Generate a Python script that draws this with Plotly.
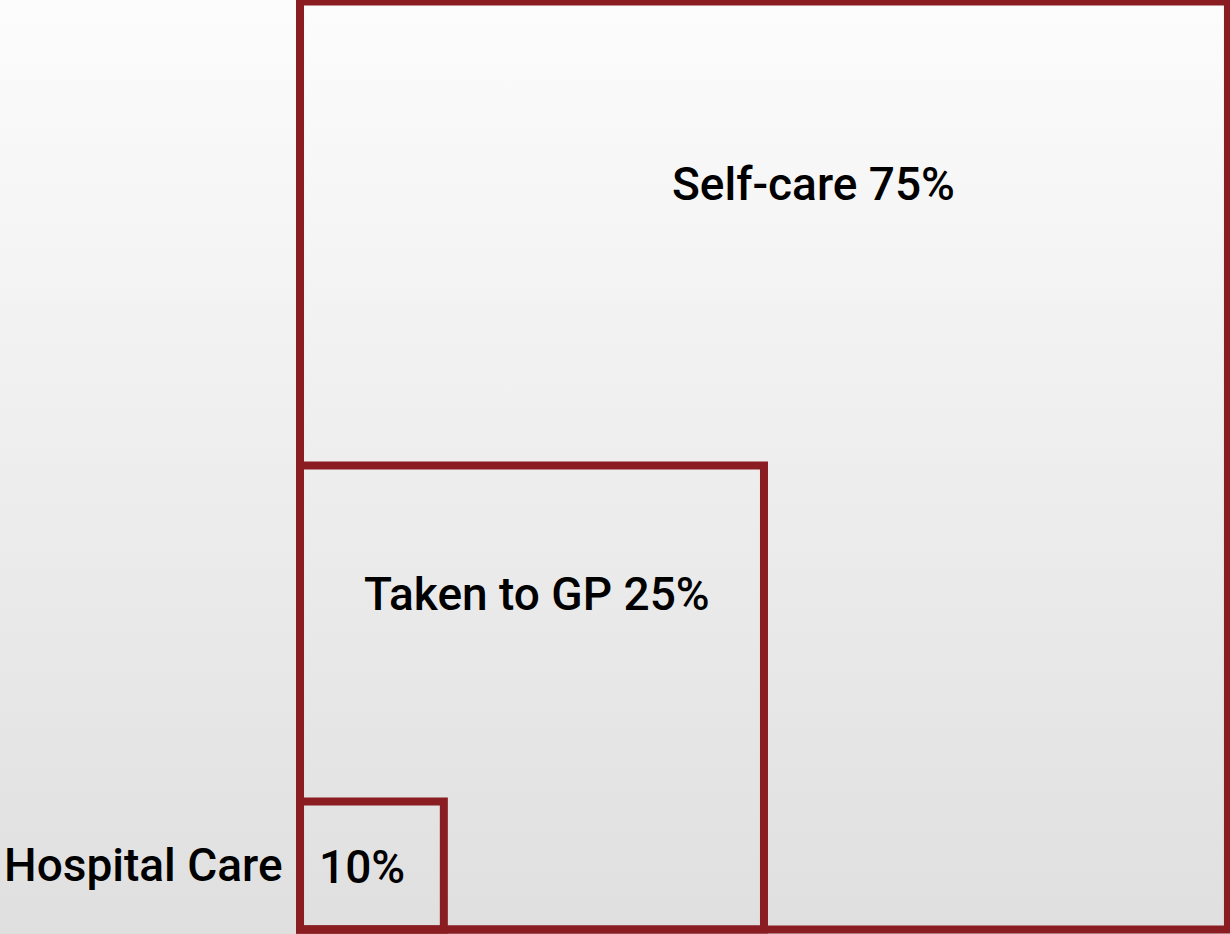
import plotly.graph_objects as go

# Data
categories = ["Self-care", "Taken to GP", "Hospital Care"]
values = [75, 25, 10]
box_width = [100, 50, 15.5]
box_height = [100, 50, 13.8]

BORDER = "#8a1d21"
FONT = "Roboto, Liberation Sans, Arial, sans-serif"

fig = go.Figure()

# background gradient
fig.add_trace(go.Scatter(
    x=[-40, 110, 110, -40, -40], y=[-5, -5, 110, 110, -5],
    mode="lines", line=dict(width=0), fill="toself",
    fillgradient=dict(type="vertical",
                      colorscale=[[0, "#dedede"], [1, "#ffffff"]]),
    hoverinfo="skip", showlegend=False,
))

shapes = []
for w, h in zip(box_width, box_height):
    shapes.append(dict(type="rect", xref="x", yref="y", x0=0, y0=0, x1=w, y1=h,
                       line=dict(color=BORDER, width=8), fillcolor="rgba(0,0,0,0)",
                       layer="above"))

annotations = [
    dict(x=box_width[0] * 0.553, y=box_height[0] * 0.803,
         text=f"{categories[0]} {values[0]}%"),
    dict(x=box_width[1] * 0.51, y=box_height[1] * 0.724,
         text=f"{categories[1]} {values[1]}%"),
    dict(x=box_width[2] * 0.43, y=box_height[2] * 0.49,
         text=f"{values[2]}%"),
    dict(x=-16.9, y=box_height[2] * 0.50, text=categories[2]),
]
for a in annotations:
    a.update(xref="x", yref="y", showarrow=False,
             font=dict(family=FONT, size=46, color="#000000", weight=500),
             xanchor="center", yanchor="middle")

fig.update_layout(
    width=1230, height=934,
    margin=dict(l=0, r=0, t=0, b=0),
    paper_bgcolor="#ffffff", plot_bgcolor="rgba(0,0,0,0)",
    showlegend=False,
    shapes=shapes, annotations=annotations,
    xaxis=dict(range=[-32.33, 100.22], visible=False, fixedrange=True),
    yaxis=dict(range=[-0.485, 100.16], visible=False, fixedrange=True),
)

fig.write_html("out.html")
